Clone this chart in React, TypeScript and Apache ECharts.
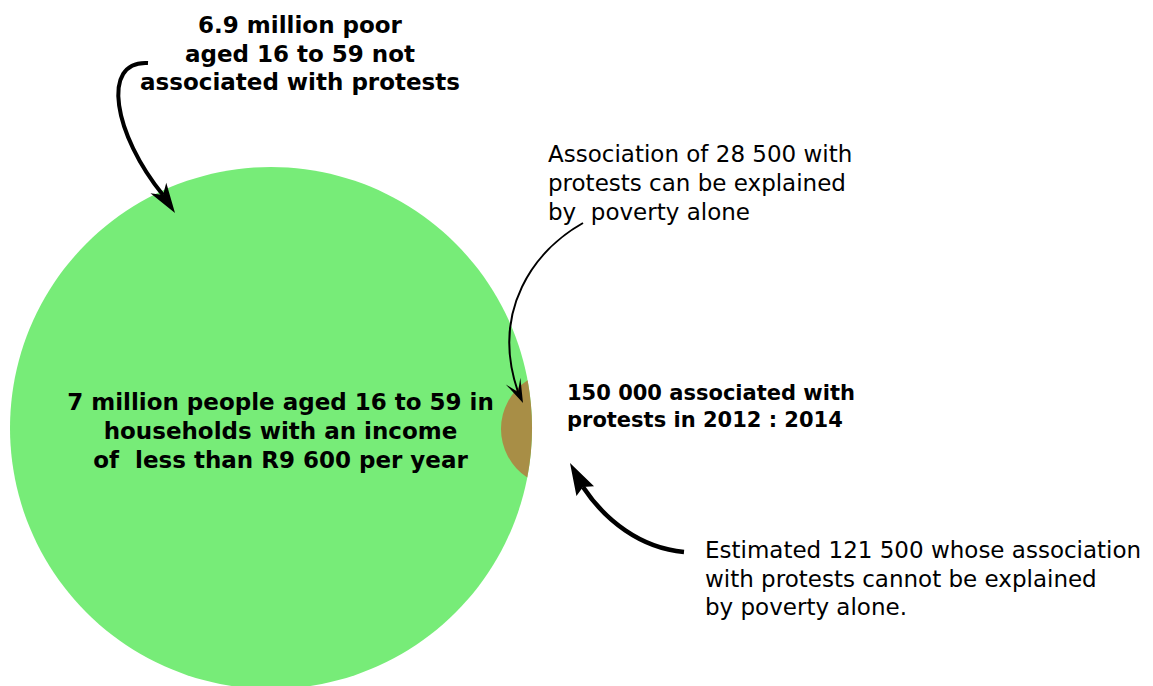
import React, { useEffect, useRef } from "react";
import * as echarts from "echarts";

// ---- data ----
const CATEGORIES = ["Poor aged 16 to 59", "Associated with protests 2012–2014"];
const PEOPLE = [7000000, 150000];
const SEGMENT_LABELS = [
  "not associated with protests",
  "explained by poverty alone",
  "not explained by poverty alone",
];
const SEGMENT_VALUES = [6900000, 28500, 121500];
const AGE_RANGE = [16, 59];
const INCOME_THRESHOLD = [9600];
const YEARS = [2012, 2014];

// ---- layout (pixels) ----
const W = 1153;
const H = 686;
const CIRCLE_LAYOUT = [
  { cx: 271, cy: 428, r: 261 },
  { cx: 559, cy: 429, r: 58 },
];
const GREEN = "#77ec78";
const BROWN = "#a88e46";
const FONT = "'DejaVu Sans', 'Noto Sans', sans-serif";

const fmtThousands = (v: number) =>
  String(v).replace(/\B(?=(\d{3})+(?!\d))/g, " ");
const fmtMillion = (v: number) => String(+(v / 1e6).toFixed(1));

function arrowHead(tip: number[], from: number[], L: number, Wd: number) {
  const dx = tip[0] - from[0];
  const dy = tip[1] - from[1];
  const len = Math.hypot(dx, dy);
  const ux = dx / len, uy = dy / len;
  const px = -uy, py = ux;
  const bx = tip[0] - L * ux, by = tip[1] - L * uy;
  return [
    [tip[0], tip[1]],
    [bx + Wd * px, by + Wd * py],
    [from[0], from[1]],
    [bx - Wd * px, by - Wd * py],
  ];
}

function arrow(p0: number[], c1: number[], c2: number[], p3: number[], tip: number[], lw: number, L: number, Wd: number) {
  return [
    {
      type: "bezierCurve",
      z: 100,
      shape: { x1: p0[0], y1: p0[1], cpx1: c1[0], cpy1: c1[1], cpx2: c2[0], cpy2: c2[1], x2: p3[0], y2: p3[1] },
      style: { stroke: "#000", lineWidth: lw, fill: null, lineCap: "butt" },
    },
    {
      type: "polygon",
      z: 101,
      shape: { points: arrowHead(tip, p3, L, Wd) },
      style: { fill: "#000" },
    },
  ];
}

function textBlock(lines: string[], x: number, y: number, size: number, bold: boolean, align: string, lh: number) {
  return {
    type: "text",
    z: 110,
    x,
    y,
    style: {
      text: lines.join("\n"),
      fill: "#000",
      fontFamily: FONT,
      fontSize: size,
      fontWeight: bold ? "bold" : "normal",
      align,
      verticalAlign: "top",
      lineHeight: lh,
    },
  };
}

export default function App() {
  const ref = useRef<HTMLDivElement>(null);
  useEffect(() => {
    document.body.style.margin = "0";
    document.body.style.overflow = "hidden";
    if (!ref.current) return;
    const chart = echarts.init(ref.current, undefined, { renderer: "svg" });

    const seriesData = CATEGORIES.map((name, i) => ({
      name,
      value: [CIRCLE_LAYOUT[i].cx, CIRCLE_LAYOUT[i].cy, CIRCLE_LAYOUT[i].r, PEOPLE[i]],
    }));

    const renderItem = (params: any, api: any) => {
      const i = params.dataIndex;
      const c = api.coord([api.value(0), api.value(1)]);
      const r = api.size([api.value(2), 0])[0];
      if (i === 0) {
        return { type: "circle", shape: { cx: c[0], cy: c[1], r }, style: { fill: GREEN } };
      }
      const big = CIRCLE_LAYOUT[0];
      const bc = api.coord([big.cx, big.cy]);
      const R = api.size([big.r, 0])[0];
      const dx = c[0] - bc[0], dy = c[1] - bc[1];
      const d = Math.hypot(dx, dy);
      const a = (R * R - r * r + d * d) / (2 * d);
      const h = Math.sqrt(Math.max(R * R - a * a, 0));
      const mx = bc[0] + (a * dx) / d, my = bc[1] + (a * dy) / d;
      const ux = -dy / d, uy = dx / d;
      const p1 = [mx - h * ux, my - h * uy];
      const p2 = [mx + h * ux, my + h * uy];
      const top = p1[1] < p2[1] ? p1 : p2;
      const bot = p1[1] < p2[1] ? p2 : p1;
      const pathData = `M ${top[0]} ${top[1]} A ${r} ${r} 0 0 0 ${bot[0]} ${bot[1]} A ${R} ${R} 0 0 0 ${top[0]} ${top[1]} Z`;
      return { type: "path", shape: { pathData }, style: { fill: BROWN } };
    };

    const graphics: any[] = [
      textBlock(
        [
          `${fmtMillion(SEGMENT_VALUES[0])} million poor`,
          `aged ${AGE_RANGE[0]} to ${AGE_RANGE[1]} not`,
          `associated with protests`,
        ],
        300, 11, 23, true, "center", 28.5
      ),
      textBlock(
        [
          `${fmtMillion(PEOPLE[0])} million people aged ${AGE_RANGE[0]} to ${AGE_RANGE[1]} in`,
          `households with an income`,
          `of  less than R${fmtThousands(INCOME_THRESHOLD[0])} per year`,
        ],
        280.5, 387, 23, true, "center", 29
      ),
      textBlock(
        [
          `Association of ${fmtThousands(SEGMENT_VALUES[1])} with`,
          `protests can be explained`,
          `by  poverty alone`,
        ],
        548, 139, 23, false, "left", 29
      ),
      textBlock(
        [
          `${fmtThousands(PEOPLE[1])} associated with`,
          `protests in ${YEARS[0]} : ${YEARS[1]}`,
        ],
        567, 379, 21, true, "left", 27
      ),
      textBlock(
        [
          `Estimated ${fmtThousands(SEGMENT_VALUES[2])} whose association`,
          `with protests cannot be explained`,
          `by poverty alone.`,
        ],
        705, 536, 23, false, "left", 28.5
      ),
      ...arrow([148, 63], [100, 60], [114, 135], [163, 195], [175, 213], 4, 30, 9.5),
      ...arrow([583, 223], [535, 250], [490, 310], [518, 392], [523, 403], 2, 24, 8),
      ...arrow([684, 552], [640, 548], [605, 520], [583, 487], [570, 463], 4.5, 32, 10),
    ];

    chart.setOption({
      animation: false,
      backgroundColor: "#fff",
      grid: { left: 0, right: 0, top: 0, bottom: 0, containLabel: false },
      xAxis: { type: "value", min: 0, max: W, show: false },
      yAxis: { type: "value", min: 0, max: H, inverse: true, show: false },
      tooltip: { show: false },
      series: [
        {
          type: "custom",
          name: "Groups",
          clip: false,
          renderItem,
          data: seriesData,
          encode: { x: 0, y: 1 },
        },
      ],
      graphic: graphics,
    });
    // keep segment labels referenced for documentation
    void SEGMENT_LABELS;
    return () => chart.dispose();
  }, []);
  return <div ref={ref} style={{ width: W, height: H }} />;
}
